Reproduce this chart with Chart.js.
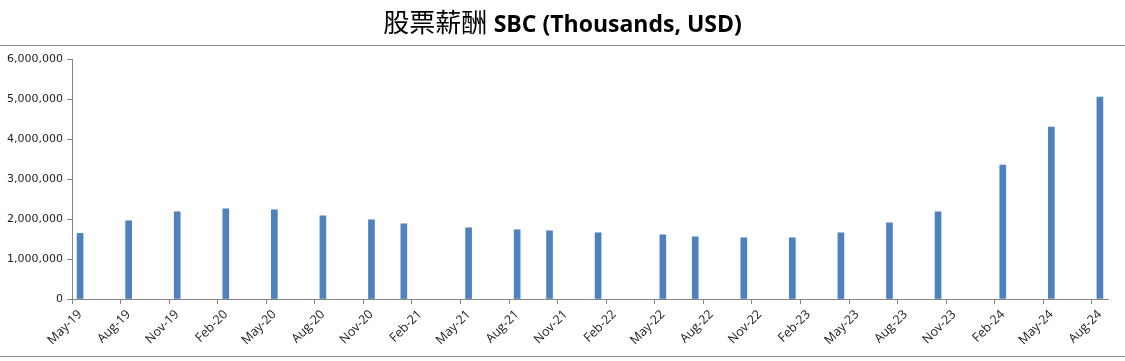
<!DOCTYPE html>
<html><head><meta charset="utf-8">
<script src="https://cdn.jsdelivr.net/npm/chart.js@4.4.1/dist/chart.umd.min.js"></script>
<style>
html,body{margin:0;padding:0;background:#fff;}
#wrap{position:relative;width:1125px;height:361px;overflow:hidden;}
#title{position:absolute;left:0;top:4px;width:1125px;text-align:center;font-size:26px;line-height:34px;color:#000;white-space:nowrap;}
.cjk{font-family:"Noto Sans CJK TC";font-weight:400;}
.lat{font-family:"Open Sans";font-weight:700;font-size:23px;}
.rule{position:absolute;left:0;width:1125px;height:1px;background:#8a8a8a;}
canvas{position:absolute;left:0;top:0;}
</style></head>
<body><div id="wrap"><canvas id="c" width="1125" height="361"></canvas>
<div class="rule" style="top:45px"></div><div class="rule" style="top:356px"></div>
<div id="title"><span class="cjk">股票薪酬</span> <span class="lat">SBC (Thousands, USD)</span></div></div>
<script>
const periods = ['2019-05','2019-08','2019-11','2020-02','2020-05','2020-08','2020-11','2021-01','2021-05','2021-08','2021-10','2022-01','2022-05','2022-07','2022-10','2023-01','2023-04','2023-07','2023-10','2024-02','2024-05','2024-08'];
const sbcValues = [1640000,1955000,2180000,2255000,2230000,2080000,1980000,1880000,1780000,1730000,1705000,1655000,1605000,1555000,1530000,1530000,1655000,1905000,2180000,3350000,4300000,5050000];
const tickLabels = ['May-19','Aug-19','Nov-19','Feb-20','May-20','Aug-20','Nov-20','Feb-21','May-21','Aug-21','Nov-21','Feb-22','May-22','Aug-22','Nov-22','Feb-23','May-23','Aug-23','Nov-23','Feb-24','May-24','Aug-24'];
const yMax = 6000000;
const yStep = 1000000;

function monthIndex(p){const [y,m]=p.split('-').map(Number);return (y-2019)*12+(m-5);}
const points = periods.map((p,i)=>({x:monthIndex(p)+0.5,y:sbcValues[i]}));
const axisColor = '#868686';

new Chart(document.getElementById('c'),{
  type:'bar',
  data:{datasets:[{data:points,backgroundColor:'#4F81BD',borderWidth:0,barThickness:6}]},
  options:{
    responsive:false,animation:false,
    layout:{padding:{top:59,right:17,left:0,bottom:0}},
    plugins:{legend:{display:false},tooltip:{enabled:false},title:{display:false}},
    scales:{
      x:{type:'linear',offset:false,min:0,max:(tickLabels.length-1)*3+1,
        afterBuildTicks:s=>{s.ticks=tickLabels.map((l,i)=>({value:i*3}));},
        afterFit:s=>{s.height=62;},
        ticks:{autoSkip:false,maxRotation:45,minRotation:45,labelOffset:8,padding:3,
          callback:(v,i)=>tickLabels[i],font:{family:'Open Sans',size:12.5},color:'#222'},
        grid:{offset:false,drawOnChartArea:false,drawTicks:true,tickLength:5,color:axisColor},
        border:{color:axisColor,width:1}},
      y:{min:0,max:yMax,
        afterFit:s=>{s.width=72;},
        ticks:{stepSize:yStep,padding:4,callback:v=>v.toLocaleString('en-US'),font:{family:'DejaVu Sans',size:11},color:'#222'},
        grid:{drawOnChartArea:false,drawTicks:true,tickLength:5,color:axisColor},
        border:{color:axisColor,width:1}}
    }
  }
});
</script></body></html>
